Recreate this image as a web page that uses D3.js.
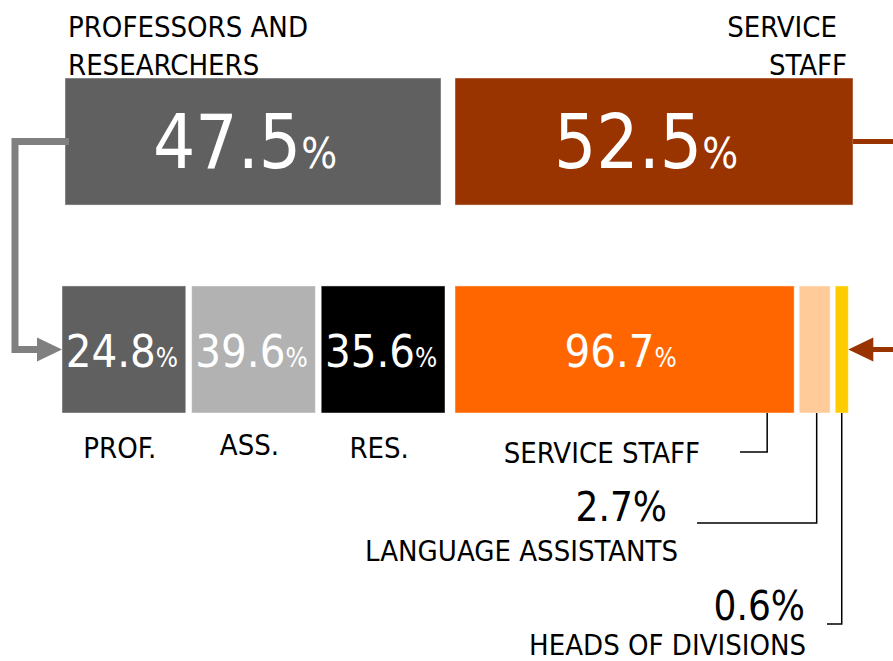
<!DOCTYPE html>
<html lang="en">
<head>
<meta charset="UTF-8">
<title>Staff breakdown</title>
<style>
  body { margin: 0; padding: 0; background: #ffffff; }
  svg { display: block; }
  text { font-family: "DejaVu Sans Condensed", "DejaVu Sans", sans-serif; }
</style>
</head>
<body>
<div id="chart"></div>
<script src="https://cdn.jsdelivr.net/npm/d3@7"></script>
<script>
// data
const topGroups = ["PROFESSORS AND RESEARCHERS", "SERVICE STAFF"];
const topValues = [47.5, 52.5];

const academicCats = ["PROF.", "ASS.", "RES."];
const academicValues = [24.8, 39.6, 35.6];

const staffCats = ["SERVICE STAFF", "LANGUAGE ASSISTANTS", "HEADS OF DIVISIONS"];
const staffValues = [96.7, 2.7, 0.6];

const w = 893, h = 661;

const topColors = ["#606060", "#993300"];
const academicColors = ["#606060", "#b2b2b2", "#000000"];
const staffColors = ["#ff6600", "#ffcc99", "#ffcc00"];

const svg = d3.select("#chart").append("svg")
  .attr("width", w).attr("height", h);

// rows
const yRow = d3.scaleBand().domain(["top", "bottom"]).range([78, 413]).paddingInner(0.389);

// top row widths (not strictly proportional in the original)
const topWidth = d3.scaleLinear().domain([0, 100]).range([167, 607]);
const topGap = 14;
let acc = 65;
const topBars = topValues.map((v, i) => {
  const b = { name: topGroups[i], value: v, x: acc, w: topWidth(v), color: topColors[i] };
  acc += b.w + topGap;
  return b;
});

// academic split
const xAcad = d3.scaleBand().domain(academicCats).range([62, 445]).paddingInner(0.045);

// staff split, compressed width scale so tiny shares stay visible
const staffWidth = d3.scaleLinear().domain([0, 2.7, 100]).range([8, 31, 350]);
acc = 455;
const staffBars = staffValues.map((v, i) => {
  const b = { name: staffCats[i], value: v, x: acc, w: staffWidth(v), color: staffColors[i] };
  acc += b.w + 5;
  return b;
});

function pctText(sel, size, pctSize) {
  sel.each(function (d) {
    const t = d3.select(this);
    t.append("tspan").attr("font-size", size).text(d.value.toFixed(1));
    t.append("tspan").attr("font-size", pctSize).text("%");
  });
}

// top bars
const yTop = yRow("top"), bh = yRow.bandwidth();
svg.selectAll(".top-bar").data(topBars).enter().append("rect")
  .attr("class", "top-bar")
  .attr("x", d => d.x).attr("y", yTop)
  .attr("width", d => d.w).attr("height", bh)
  .attr("fill", d => d.color)
  .attr("stroke", "rgba(255,255,255,0.45)");

svg.selectAll(".top-val").data(topBars).enter().append("text")
  .attr("class", "top-val")
  .attr("x", d => d.x + d.w / 2 - 8).attr("y", yTop + 90)
  .attr("text-anchor", "middle").attr("fill", "#fff")
  .call(pctText, 74, 42);

// top labels
const l0 = svg.append("text").attr("font-size", 29).attr("fill", "#000");
l0.append("tspan").attr("x", 68).attr("y", 37).text("PROFESSORS AND");
l0.append("tspan").attr("x", 68).attr("y", 75).text("RESEARCHERS");
const r = topBars[1];
const l1 = svg.append("text").attr("font-size", 29).attr("fill", "#000").attr("text-anchor", "end");
l1.append("tspan").attr("x", r.x + r.w - 16).attr("y", 37).text("SERVICE");
l1.append("tspan").attr("x", r.x + r.w - 6).attr("y", 75).text("STAFF");

// bottom row
const yBot = yRow("bottom");
svg.selectAll(".acad-bar").data(academicValues).enter().append("rect")
  .attr("class", "acad-bar")
  .attr("x", (d, i) => xAcad(academicCats[i])).attr("y", yBot)
  .attr("width", xAcad.bandwidth()).attr("height", bh)
  .attr("fill", (d, i) => academicColors[i])
  .attr("stroke", "rgba(255,255,255,0.45)");

svg.selectAll(".acad-val").data(academicValues.map(v => ({ value: v }))).enter().append("text")
  .attr("class", "acad-val")
  .attr("x", (d, i) => xAcad(academicCats[i]) + xAcad.bandwidth() / 2 - 2).attr("y", yBot + 81)
  .attr("text-anchor", "middle").attr("fill", "#fff")
  .call(pctText, 45, 26);

const acadLabelY = [458, 455, 458];
svg.selectAll(".acad-lab").data(academicCats).enter().append("text")
  .attr("class", "acad-lab")
  .attr("x", d => xAcad(d) + xAcad.bandwidth() / 2 - 4).attr("y", (d, i) => acadLabelY[i])
  .attr("text-anchor", "middle").attr("font-size", 29).attr("fill", "#000")
  .text(d => d);

svg.selectAll(".staff-bar").data(staffBars).enter().append("rect")
  .attr("class", "staff-bar")
  .attr("x", d => d.x).attr("y", yBot)
  .attr("width", d => d.w).attr("height", bh)
  .attr("fill", d => d.color)
  .attr("stroke", "rgba(255,255,255,0.45)");

svg.append("text").datum(staffBars[0])
  .attr("x", d => d.x + d.w / 2 - 4).attr("y", yBot + 81)
  .attr("text-anchor", "middle").attr("fill", "#fff")
  .call(pctText, 45, 26);

// staff leader lines and labels
const botEdge = yBot + bh;
const s0 = staffBars[0], s1 = staffBars[1], s2 = staffBars[2];
const lines = svg.append("g").attr("fill", "none").attr("stroke", "#000").attr("stroke-width", 1.5);
lines.append("path").attr("d", `M${s0.x + s0.w - 27},${botEdge} V452 H740`);
lines.append("path").attr("d", `M${s1.x + s1.w / 2 + 2},${botEdge} V523 H697`);
lines.append("path").attr("d", `M${s2.x + s2.w / 2},${botEdge} V624 H827`);

svg.append("text").attr("x", 700).attr("y", 463).attr("text-anchor", "end")
  .attr("font-size", 29).text(staffCats[0]);
svg.append("text").attr("x", 667).attr("y", 521).attr("text-anchor", "end")
  .attr("font-size", 40).text(s1.value.toFixed(1) + "%");
svg.append("text").attr("x", 678).attr("y", 561).attr("text-anchor", "end")
  .attr("font-size", 29).text(staffCats[1]);
svg.append("text").attr("x", 805).attr("y", 620).attr("text-anchor", "end")
  .attr("font-size", 40).text(s2.value.toFixed(1) + "%");
svg.append("text").attr("x", 806).attr("y", 655).attr("text-anchor", "end")
  .attr("font-size", 29).text(staffCats[2]);

// arrows
const tb0 = topBars[0], tb1 = topBars[1];
const midTop = yTop + bh / 2, midBot = yBot + bh / 2;
const acadLeft = xAcad(academicCats[0]);
svg.append("path")
  .attr("d", `M${tb0.x + 4},${midTop} H15 V${midBot} H${acadLeft - 22}`)
  .attr("fill", "none").attr("stroke", "#808080").attr("stroke-width", 7);
svg.append("path")
  .attr("d", `M${acadLeft},${midBot} L${acadLeft - 25},${midBot - 12} L${acadLeft - 25},${midBot + 12} Z`)
  .attr("fill", "#808080");

const staffRight = s2.x + s2.w;
svg.append("path")
  .attr("d", `M${tb1.x + tb1.w},${midTop} H905 V${midBot} H${staffRight + 22}`)
  .attr("fill", "none").attr("stroke", "#993300").attr("stroke-width", 5);
svg.append("path")
  .attr("d", `M${staffRight},${midBot} L${staffRight + 25},${midBot - 12} L${staffRight + 25},${midBot + 12} Z`)
  .attr("fill", "#993300");
</script>
</body>
</html>
